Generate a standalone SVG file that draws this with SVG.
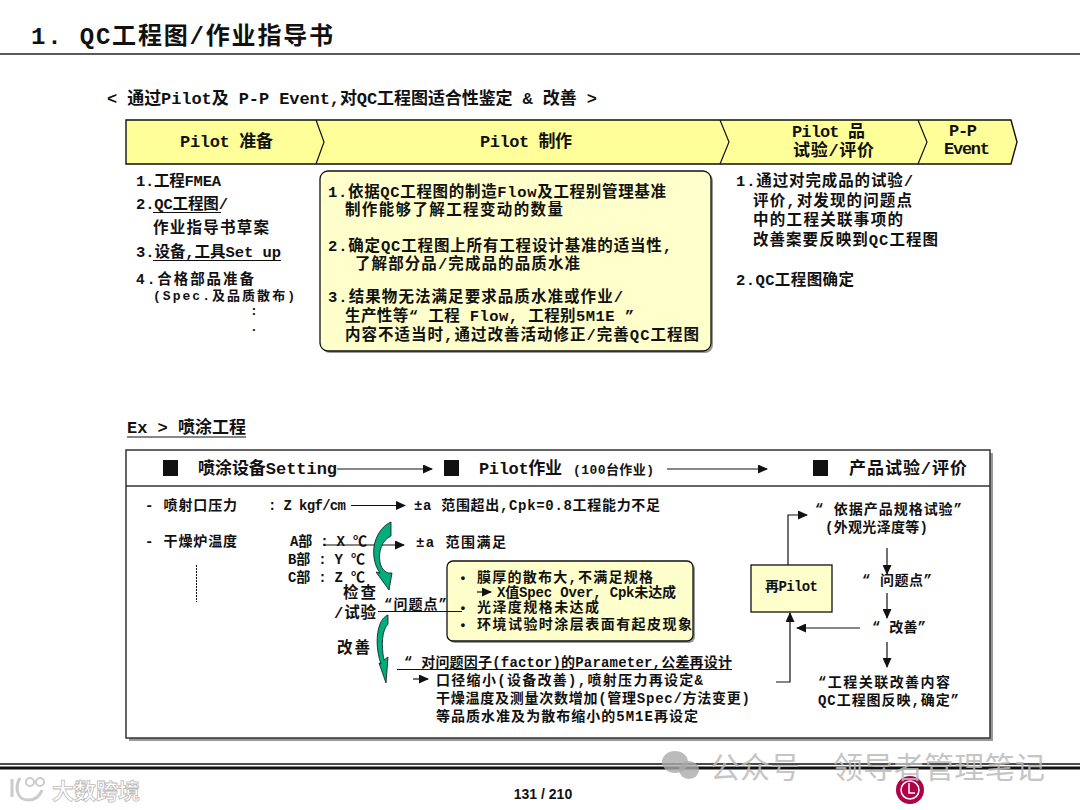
<svg xmlns="http://www.w3.org/2000/svg" width="1080" height="810" viewBox="0 0 1080 810">
<style>
text{font-family:"Liberation Mono","Noto Sans CJK SC",monospace;font-weight:700;fill:#111}
.t{font-size:24px}.h{font-size:17px}.m{font-size:15.5px}.n{font-size:14.5px}.b{font-size:14px}.s{font-size:13px}
.y{fill:#FFFF99;stroke:#111;stroke-width:1.4}
.p{fill:#FFFFCC;stroke:#111;stroke-width:1.3}
.sh{fill:#999}
.l{fill:none;stroke:#111;stroke-width:1.2}
.u{fill:none;stroke:#111;stroke-width:1.2}
.g{fill:#00AD7C;stroke:#111;stroke-width:.8}
.w{font-family:"Noto Sans CJK SC","Noto Sans",sans-serif;font-weight:400;fill:#bbb;opacity:.85}
.o{fill:#fff;stroke:#bbb;stroke-width:.8;font-family:"Noto Sans CJK SC","Noto Sans",sans-serif;font-weight:700}
</style>
<defs>
<marker id="a" markerWidth="10" markerHeight="9" refX="9" refY="4.500" orient="auto" markerUnits="userSpaceOnUse"><path d="M0 0L10 4.500L0 9z" fill="#111"/></marker>
</defs>
<rect width="1080" height="810" fill="#fff"/>
<g id="title">
<text class="t" x="31" y="44" textLength="302">1. QC工程图/作业指导书</text>
<path d="M0 54H1080" stroke="#222" stroke-width="1.4"/>
<text class="h" x="107" y="104" textLength="490">&lt; 通过Pilot及 P-P Event,对QC工程图适合性鉴定 &amp; 改善 &gt;</text>
</g>
<g id="banner">
<path class="y" d="M126 120H1011L1017 142L1011 164H126Z"/>
<path class="l" d="M316 120L324 142L316 164M720 120L729 142L720 164M918 120L927 142L918 164"/>
<text class="h" x="180" y="147" textLength="93">Pilot 准备</text>
<text class="h" x="480" y="147" textLength="92">Pilot 制作</text>
<text class="h" x="792" y="137" textLength="73">Pilot 品</text>
<text class="h" x="793" y="156" textLength="81">试验/评价</text>
<text class="h" x="949" y="136" textLength="28">P-P</text>
<text class="h" x="944" y="154" textLength="46">Event</text>
</g>
<g id="prep">
<text class="m" x="136" y="186" textLength="85">1.工程FMEA</text>
<text class="m" x="136" y="209" textLength="92">2.QC工程图/</text>
<path class="u" d="M153 212.500H221"/>
<text class="m" x="153" y="233" textLength="116">作业指导书草案</text>
<text class="m" x="136" y="257" textLength="145">3.设备,工具Set up</text>
<path class="u" d="M153 260.500H281"/>
<text class="n" x="136" y="284" textLength="118">4.合格部品准备</text>
<text class="s" x="153" y="300" textLength="142">(Spec.及品质散布)</text>
<text class="s" x="250" y="315">:</text>
<text class="s" x="250" y="331">.</text>
</g>
<g id="make">
<rect class="sh" x="322" y="173" width="391" height="180" rx="8"/>
<rect class="p" x="320" y="171" width="391" height="180" rx="8"/>
<text class="m" x="328" y="197" textLength="338">1.依据QC工程图的制造Flow及工程别管理基准</text>
<text class="m" x="345" y="215" textLength="218">制作能够了解工程变动的数量</text>
<text class="m" x="328" y="251" textLength="344">2.确定QC工程图上所有工程设计基准的适当性,</text>
<text class="m" x="355" y="269" textLength="225">了解部分品/完成品的品质水准</text>
<text class="m" x="328" y="302" textLength="295">3.结果物无法满足要求品质水准或作业/</text>
<text class="m" x="345" y="321" textLength="289">生产性等“ 工程 Flow, 工程别5M1E ”</text>
<text class="m" x="345" y="340" textLength="354">内容不适当时,通过改善活动修正/完善QC工程图</text>
</g>
<g id="evaluate">
<text class="m" x="736" y="186" textLength="177">1.通过对完成品的试验/</text>
<text class="m" x="753" y="206" textLength="159">评价,对发现的问题点</text>
<text class="m" x="753" y="225" textLength="150">中的工程关联事项的</text>
<text class="m" x="753" y="245" textLength="185">改善案要反映到QC工程图</text>
<text class="m" x="736" y="285" textLength="118">2.QC工程图确定</text>
</g>
<g id="ex-title">
<text class="h" x="127" y="433" textLength="119">Ex &gt; 喷涂工程</text>
<path class="u" d="M127 437H246"/>
</g>
<g id="ex-box">
<rect class="sh" x="129" y="453" width="864" height="288"/>
<rect x="126" y="450" width="864" height="288" fill="#fff" stroke="#333" stroke-width="1.5"/>
<path d="M126 486H990" stroke="#333" stroke-width="1.3"/>
</g>
<g id="ex-header">
<rect x="163" y="460" width="15" height="16" fill="#111"/>
<text class="h" x="198" y="474" textLength="139">喷涂设备Setting</text>
<rect x="444" y="460" width="15" height="16" fill="#111"/>
<text class="h" x="479" y="474" textLength="83">Pilot作业</text>
<text class="s" x="573" y="474" textLength="81">(100台作业)</text>
<rect x="813" y="460" width="15" height="16" fill="#111"/>
<text class="h" x="849" y="474" textLength="118">产品试验/评价</text>
</g>
<g id="ex-left">
<text class="b" x="145" y="510" textLength="92">- 喷射口压力</text>
<text class="b" x="268" y="510" textLength="78">: Z kgf/cm</text>
<text class="b" x="414" y="510" textLength="246">±a 范围超出,Cpk=0.8工程能力不足</text>
<text class="b" x="145" y="546" textLength="92">- 干燥炉温度</text>
<text class="b" x="290" y="546" textLength="77">A部 : X ℃</text>
<text class="b" x="416" y="547" textLength="90">±a 范围满足</text>
<text class="b" x="288" y="564" textLength="77">B部 : Y ℃</text>
<text class="b" x="288" y="582" textLength="77">C部 : Z ℃</text>
<path d="M196.500 565V602" stroke="#111" stroke-dasharray="2 1" fill="none"/>
<text class="m" x="343" y="598" textLength="33">检查</text>
<text class="m" x="334" y="618" textLength="42">/试验</text>
<text class="b" x="384" y="609" textLength="63">“问题点”</text>
<text class="m" x="337" y="653" textLength="33">改善</text>
</g>
<g id="problem">
<rect class="sh" x="449" y="563" width="246" height="80" rx="6"/>
<rect class="p" x="447" y="561" width="246" height="80" rx="6"/>
<text class="s" x="459" y="582">•</text>
<text class="b" x="477" y="582" textLength="176">膜厚的散布大,不满足规格</text>
<text class="b" x="497" y="597" textLength="179">X值Spec Over, Cpk未达成</text>
<text class="s" x="459" y="612">•</text>
<text class="b" x="477" y="612" textLength="122">光泽度规格未达成</text>
<text class="s" x="459" y="629">•</text>
<text class="b" x="477" y="629" textLength="215">环境试验时涂层表面有起皮现象</text>
</g>
<g id="fix">
<text class="b" x="404" y="667" textLength="328">“ 对问题因子(factor)的Parameter,公差再设计</text>
<text class="b" x="436" y="685" textLength="267">口径缩小(设备改善),喷射压力再设定&amp;</text>
<text class="b" x="436" y="703" textLength="314">干燥温度及测量次数增加(管理Spec/方法变更)</text>
<text class="b" x="436" y="721" textLength="262">等品质水准及为散布缩小的5M1E再设定</text>
</g>
<g id="repilot">
<rect class="p" x="751" y="565" width="81" height="47"/>
<text class="b" x="765" y="591" textLength="53">再Pilot</text>
</g>
<g id="eval-steps">
<text class="b" x="815" y="514" textLength="147">“ 依据产品规格试验”</text>
<text class="b" x="825" y="532" textLength="103">(外观光泽度等)</text>
<text class="b" x="862" y="585" textLength="70">“ 问题点”</text>
<text class="b" x="872" y="632" textLength="54">“ 改善”</text>
<text class="b" x="818" y="687" textLength="132">“工程关联改善内容</text>
<text class="b" x="818" y="705" textLength="141">QC工程图反映,确定”</text>
</g>
<g id="connectors">
<path class="l" d="M337 469H432" marker-end="url(#a)"/>
<path class="l" d="M667 469H767" marker-end="url(#a)"/>
<path class="l" d="M351 505.500H405" marker-end="url(#a)"/>
<path class="l" d="M323 545H404" marker-end="url(#a)"/>
<path class="l" d="M378 611.500H462"/>
<path class="u" d="M397 669.500H732"/>
<path class="l" d="M477 592H491" marker-end="url(#a)"/>
<path class="l" d="M413 679H428" marker-end="url(#a)"/>
<path class="l" d="M788 565V515H807" marker-end="url(#a)"/>
<path class="l" d="M887 548V574" marker-end="url(#a)"/>
<path class="l" d="M887 593V618" marker-end="url(#a)"/>
<path class="l" d="M887 642V667" marker-end="url(#a)"/>
<path class="l" d="M860 628H797" marker-end="url(#a)"/>
<path class="l" d="M776 682H790V613" marker-end="url(#a)"/>
<path class="g" d="M391 522V536C382 540 378 552 380 562C381 568 384 571 388 573L392 573L389 590L376 572L380 573C374 565 372 552 375 542C378 532 384 525 391 522Z"/>
<path class="g" d="M388 615V624C382 630 381 645 384 660L388 657L386 683L379 663L381 664C376 650 376 634 380 624C382 619 385 616 388 615Z"/>
</g>
<g id="footer">
<path d="M0 764H1080" stroke="#111" stroke-width="1.500"/>
<path d="M0 768H1080" stroke="#111" stroke-width="3"/>
<text x="543" y="799" text-anchor="middle" style="font-family:'Liberation Sans',sans-serif;font-size:14px">131 / 210</text>
<circle cx="910" cy="790" r="14" fill="#B00048"/>
<circle cx="910" cy="790" r="9" fill="none" stroke="#fff" stroke-width="1.500"/>
<path d="M909 783V793H915" fill="none" stroke="#fff" stroke-width="1.500"/>
</g>
<g id="watermark">
<ellipse cx="675" cy="762" rx="13" ry="11" fill="#aaa" opacity=".8"/>
<ellipse cx="689" cy="770" rx="10" ry="9" fill="#aaa" opacity=".8"/>
<text class="w" x="710" y="778" style="font-size:30px">公众号</text>
<text class="w" x="833" y="778" style="font-size:30px" textLength="212">领导者管理笔记</text>
<text class="o" x="52" y="799" style="font-size:22px" textLength="88">大数跨境</text>
<path d="M12 779V797M20 778C15 786 16 800 28 800C36 800 40 796 42 790" fill="none" stroke="#ccc" stroke-width="3"/>
<circle cx="30" cy="782" r="4" fill="none" stroke="#ccc" stroke-width="2"/>
<circle cx="40" cy="782" r="4" fill="none" stroke="#ccc" stroke-width="2"/>
</g>
</svg>
